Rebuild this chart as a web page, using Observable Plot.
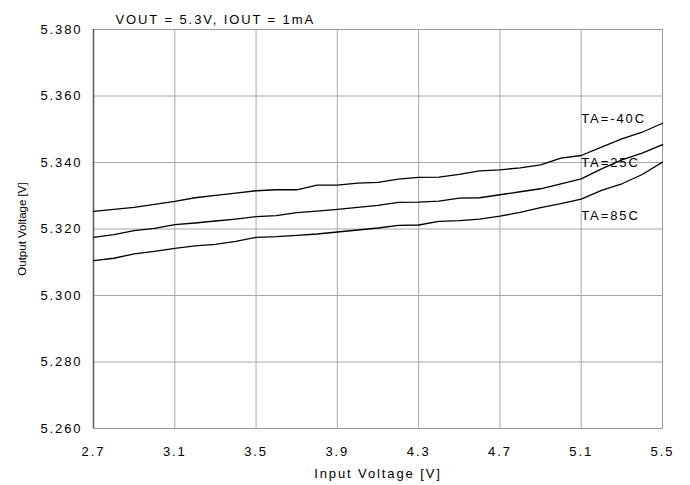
<!DOCTYPE html>
<html>
<head>
<meta charset="utf-8">
<script src="https://cdn.jsdelivr.net/npm/d3@7"></script>
<script src="https://cdn.jsdelivr.net/npm/@observablehq/plot@0.6"></script>
<style>
  html, body { margin: 0; padding: 0; background: #fff; }
  #chart svg { display: block; }
  #chart svg text { letter-spacing: 1.9px; }
</style>
</head>
<body>
<div id="chart"></div>
<script>
const title = "VOUT = 5.3V, IOUT = 1mA";
const xLabel = "Input Voltage [V]";
const yLabel = "Output Voltage [V]";

const vin = [2.7, 2.8, 2.9, 3.0, 3.1, 3.2, 3.3, 3.4, 3.5, 3.6, 3.7, 3.8, 3.9, 4.0, 4.1,
             4.2, 4.3, 4.4, 4.5, 4.6, 4.7, 4.8, 4.9, 5.0, 5.1, 5.2, 5.3, 5.4, 5.5];

const voutM40 = [5.3253, 5.3259, 5.3265, 5.3274, 5.3283, 5.3294, 5.3301, 5.3308, 5.3315, 5.3318,
                 5.3318, 5.3332, 5.3332, 5.3338, 5.3340, 5.3350, 5.3355, 5.3356, 5.3364, 5.3375,
                 5.3378, 5.3384, 5.3393, 5.3413, 5.3421, 5.3446, 5.3471, 5.3491, 5.3518];
const vout25 = [5.3175, 5.3183, 5.3195, 5.3202, 5.3213, 5.3218, 5.3224, 5.3230, 5.3237, 5.3240,
                5.3249, 5.3254, 5.3259, 5.3265, 5.3271, 5.3280, 5.3281, 5.3284, 5.3293, 5.3294,
                5.3303, 5.3312, 5.3321, 5.3336, 5.3351, 5.3381, 5.3408, 5.3428, 5.3454];
const vout85 = [5.3105, 5.3112, 5.3125, 5.3133, 5.3142, 5.3149, 5.3154, 5.3163, 5.3175, 5.3177,
                5.3181, 5.3185, 5.3191, 5.3197, 5.3203, 5.3211, 5.3212, 5.3223, 5.3225, 5.3230,
                5.3239, 5.3250, 5.3264, 5.3276, 5.3290, 5.3316, 5.3336, 5.3364, 5.3401];

const seriesNames = ["TA=-40C", "TA=25C", "TA=85C"];
const labelX = [5.1, 5.1, 5.1];
const labelY = [5.3532, 5.3398, 5.3240];

const xTicks = [2.7, 3.1, 3.5, 3.9, 4.3, 4.7, 5.1, 5.5];
const yTicks = [5.26, 5.28, 5.30, 5.32, 5.34, 5.36, 5.38];

const seriesValues = [voutM40, vout25, vout85];
const rows = seriesValues.flatMap((vals, i) =>
  vin.map((x, j) => ({series: seriesNames[i], x, y: vals[j]})));
const labels = seriesNames.map((name, i) => ({name, x: labelX[i], y: labelY[i]}));

const font = "'Liberation Sans', Arial, sans-serif";

const chart = Plot.plot({
  width: 690,
  height: 485,
  marginLeft: 93,
  marginRight: 28,
  marginTop: 29,
  marginBottom: 57,
  style: {fontFamily: font, fontSize: "13px", color: "#000", background: "#fff"},
  x: {domain: [2.7, 5.5], ticks: xTicks, label: null},
  y: {domain: [5.26, 5.38], ticks: yTicks, label: null},
  marks: [
    Plot.gridX(xTicks, {stroke: "#a8a8a8", strokeOpacity: 1, strokeWidth: 1}),
    Plot.gridY(yTicks, {stroke: "#a8a8a8", strokeOpacity: 1, strokeWidth: 1}),
    Plot.frame({stroke: "#9a9a9a", strokeWidth: 1}),
    Plot.ruleX([2.7], {stroke: "#5a5a5a", strokeWidth: 1.5}),
    Plot.axisX(xTicks, {tickSize: 0, tickPadding: 18, tickFormat: d3.format(".1f"), fontSize: 13, label: null}),
    Plot.axisY(yTicks, {tickSize: 0, tickPadding: 11, tickFormat: d3.format(".3f"), fontSize: 13, label: null}),
    Plot.line(rows, {x: "x", y: "y", z: "series", stroke: "#000", strokeWidth: 1.3}),
    Plot.text(labels, {x: "x", y: "y", text: "name", textAnchor: "start", fontSize: 13, fill: "#000"}),
    Plot.text([title], {frameAnchor: "top-left", dx: 22, dy: -15, textAnchor: "start", fontSize: 13, fill: "#000"}),
    Plot.text([xLabel], {frameAnchor: "bottom", dy: 49, fontSize: 13, fill: "#000"}),
    Plot.text([yLabel], {frameAnchor: "left", dx: -71, rotate: -90, textAnchor: "middle", fontSize: 11.5, fill: "#000"})
  ]
});
d3.select(chart).selectAll("text").filter(function() { return this.textContent === yLabel; })
  .style("letter-spacing", "0px");
document.getElementById("chart").appendChild(chart);
</script>
</body>
</html>
